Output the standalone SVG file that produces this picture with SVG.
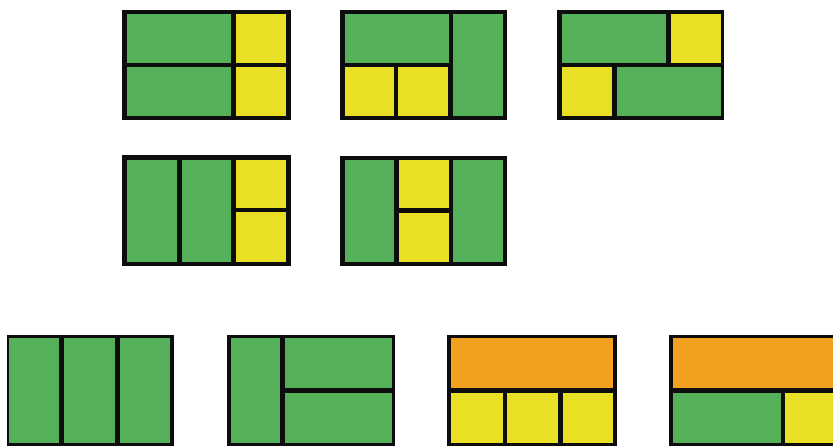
<svg xmlns="http://www.w3.org/2000/svg" width="833" height="446" viewBox="0 0 833 446">
<style>
.f{fill:#0d0d0d}
.g{fill:#55b05a}
.y{fill:#e9df24}
.o{fill:#f1a020}
</style>
<rect width="833" height="446" fill="#ffffff"/>
<g id="layout1">
<rect class="f" x="122" y="10" width="169" height="110"/>
<rect class="g" x="127" y="14" width="104" height="49"/>
<rect class="y" x="236" y="14" width="50" height="49"/>
<rect class="g" x="127" y="67" width="104" height="49"/>
<rect class="y" x="236" y="67" width="50" height="49"/>
</g>
<g id="layout2">
<rect class="f" x="340" y="10" width="167" height="110"/>
<rect class="g" x="345" y="14" width="104" height="49"/>
<rect class="g" x="453" y="14" width="50" height="102"/>
<rect class="y" x="345" y="67" width="49" height="49"/>
<rect class="y" x="398" y="67" width="50" height="49"/>
</g>
<g id="layout3">
<rect class="f" x="557" y="10" width="167" height="110"/>
<rect class="g" x="562" y="14" width="104" height="49"/>
<rect class="y" x="671" y="14" width="50" height="49"/>
<rect class="y" x="562" y="67" width="50" height="49"/>
<rect class="g" x="617" y="67" width="104" height="49"/>
</g>
<g id="layout4">
<rect class="f" x="122" y="155" width="169" height="111"/>
<rect class="g" x="127" y="160" width="50" height="102"/>
<rect class="g" x="182" y="160" width="49" height="102"/>
<rect class="y" x="236" y="160" width="50" height="48"/>
<rect class="y" x="236" y="212" width="50" height="50"/>
</g>
<g id="layout5">
<rect class="f" x="340" y="156" width="167" height="110"/>
<rect class="g" x="345" y="160" width="49" height="102"/>
<rect class="y" x="399" y="160" width="50" height="48"/>
<rect class="y" x="399" y="213" width="50" height="49"/>
<rect class="g" x="453" y="160" width="50" height="102"/>
</g>
<g id="layout6">
<rect class="f" x="7" y="335" width="167" height="111"/>
<rect class="g" x="9" y="338" width="50" height="105"/>
<rect class="g" x="64" y="338" width="51" height="105"/>
<rect class="g" x="120" y="338" width="50" height="105"/>
</g>
<g id="layout7">
<rect class="f" x="227" y="335" width="168" height="111"/>
<rect class="g" x="231" y="338" width="49" height="105"/>
<rect class="g" x="285" y="338" width="107" height="50"/>
<rect class="g" x="285" y="393" width="107" height="50"/>
</g>
<g id="layout8">
<rect class="f" x="447" y="335" width="170" height="111"/>
<rect class="o" x="451" y="338" width="162" height="50"/>
<rect class="y" x="451" y="393" width="52" height="50"/>
<rect class="y" x="507" y="393" width="51" height="50"/>
<rect class="y" x="563" y="393" width="50" height="50"/>
</g>
<g id="layout9">
<rect class="f" x="669" y="335" width="164" height="111"/>
<rect class="o" x="673" y="338" width="160" height="50"/>
<rect class="g" x="673" y="393" width="108" height="50"/>
<rect class="y" x="785" y="393" width="48" height="50"/>
</g>
<g id="connectors"/>
</svg>
